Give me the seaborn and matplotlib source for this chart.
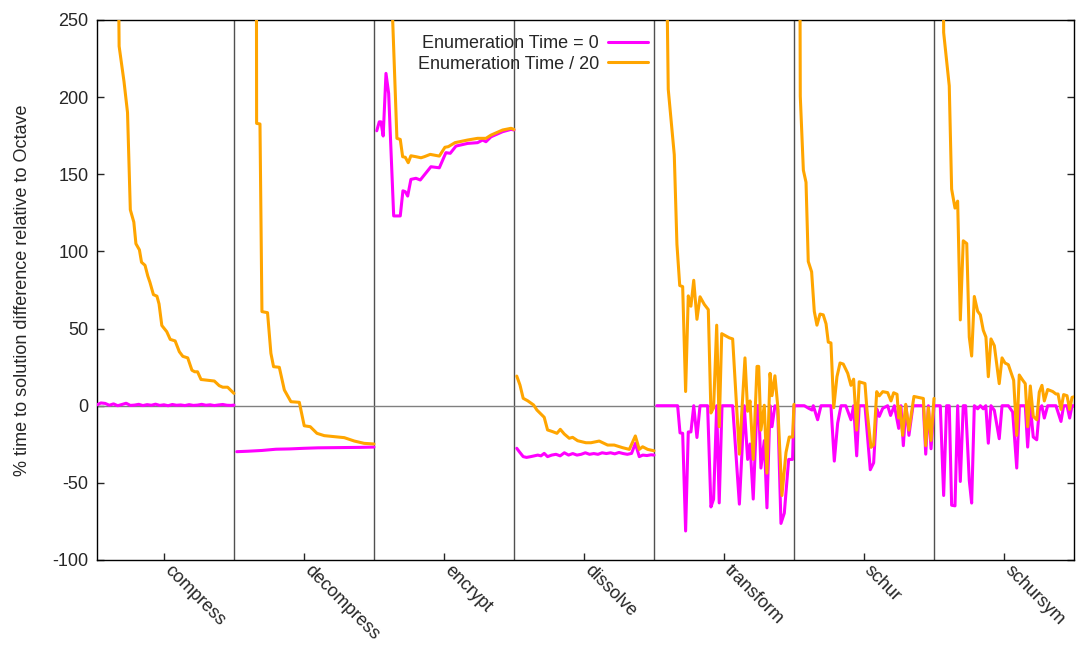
import matplotlib
matplotlib.use("Agg")
import matplotlib.pyplot as plt
import seaborn as sns
import pandas as pd

# ---------------------------------------------
# DATA (x = position inside each benchmark block)
# ---------------------------------------------
benchmarks = ["compress", "decompress", "encrypt", "dissolve", "transform", "schur", "schursym"]
series_names = ["Enumeration Time = 0", "Enumeration Time / 20"]

compress_x0 = [2, 5, 8, 11, 14, 17, 20, 23, 26, 29, 32, 35, 38, 41, 44, 47, 50, 53, 56, 59,
               62, 65, 68, 71, 74, 77, 80, 83, 86, 89, 92, 95, 98, 100]
compress_y0 = [0.5, 1.8, 1.5, 0.3, 1.2, 0.0, 0.8, 1.6, 0.2, 0.4, 0.9, 0.1, 0.7, 0.3, 1.0, 0.2,
               0.6, 0.0, 0.8, 0.3, 0.5, 0.1, 0.7, 0.2, 0.4, 0.9, 0.3, 0.6, 0.1, 0.5, 0.8, 0.3, 0.2, 0.4]
compress_x20 = [2, 16, 18, 21.5, 24, 26, 28.5, 30, 32.5, 34, 36.5, 38.5, 40, 42.5, 45, 46.5, 48.5,
                52, 54.5, 58, 61, 63.5, 67, 70, 72, 74, 76.5, 86, 89.5, 92, 95.5, 100]
compress_y20 = [1500, 420, 233, 210, 190, 127, 119, 105, 101, 93, 91, 84, 80, 72, 71, 66, 52,
                48, 43, 42, 35, 32, 31, 23, 22, 22, 17, 16, 13, 12, 12, 8]

decompress_x0 = [2, 10, 20, 30, 40, 50, 60, 70, 80, 90, 100]
decompress_y0 = [-29.8, -29.5, -29, -28.2, -28, -27.6, -27.3, -27.2, -27.1, -27, -26.8]
decompress_x20 = [2, 15.5, 16.2, 18.6, 20, 24, 26.4, 28.3, 32.4, 36, 40.7, 46.7, 50.2, 54.5,
                  59.3, 64.5, 78.8, 86, 93, 100]
decompress_y20 = [2500, 700, 183, 182.6, 61, 60.3, 34, 25.3, 24.9, 10.2, 2.6, 2.2, -13, -13.6,
                  -17.9, -19.4, -20.7, -22.9, -24.4, -24.8]

encrypt_x0 = [2, 3.8, 5, 6.6, 8.6, 10.5, 14.1, 18.8, 20.7, 22.4, 24.1, 26.4, 30, 33.1, 40.7,
              46.7, 51.4, 54.5, 58.6, 66.9, 74, 77.6, 80, 83.6, 91.9, 97.9, 100]
encrypt_y0 = [178.2, 184, 184, 174.8, 215.4, 202.5, 123, 123, 139.3, 138.7, 135.9, 146.7, 147.4,
              146.3, 154.9, 154.2, 164, 163.6, 168.3, 170, 170.5, 172.2, 171.1, 174.3, 177.6,
              179.1, 178.7]
encrypt_x20 = [2, 12, 16.4, 18.8, 20.5, 22.4, 24.5, 26.4, 30, 33.6, 36, 40.2, 46.7, 50.7, 53.1,
               57.9, 66.9, 74, 80, 83.6, 91.9, 97.9, 100]
encrypt_y20 = [1500, 285, 173.3, 172.6, 161.4, 161, 157.5, 162, 161.4, 160.7, 161.4, 162.9,
               161.8, 167.5, 167.9, 170.5, 172.2, 173.3, 173.3, 175.4, 178.7, 179.8, 179.1]

dissolve_x0 = [2, 3.8, 6.6, 9, 12, 14.5, 17, 19.3, 21.6, 24, 27, 30, 33, 36, 39, 42, 45, 48, 51,
               54, 57, 60, 63, 66, 69, 72, 75, 78, 81, 84, 86.7, 89.5, 92, 95, 98, 100]
dissolve_y0 = [-27.6, -29.8, -33, -33.5, -33, -32.5, -32, -32.5, -30.9, -33, -32, -31.5, -32.5,
               -30.5, -32, -31, -32, -31.5, -30.5, -31.5, -31, -31.5, -30.5, -31, -30.5, -31.2,
               -30.3, -31, -31.5, -30.9, -24.4, -33, -32, -32.3, -31.8, -32]
dissolve_x20 = [2, 4.3, 6.6, 9.8, 14, 16.4, 21.6, 24, 27.6, 30.7, 33.1, 35.9, 39.5, 41.9, 45.5,
                51.4, 55, 60.9, 66.9, 71.6, 77.6, 82.4, 86.7, 89.5, 91.9, 95.5, 100]
dissolve_y20 = [19.2, 13.4, 4.8, 3.2, 0.5, -2.8, -7.5, -15.7, -16.8, -17.9, -15.3, -18.3, -21.1,
                -20.5, -22.7, -24, -24, -22.9, -25.5, -25.5, -27.2, -28.3, -19.6, -28.3, -26.6,
                -28.3, -29.2]

transform_x0 = [2, 16.9, 18.6, 20.5, 22.6, 24.5, 26.4, 28.4, 30.7, 32.9, 38.3, 40.7, 42.6, 44.8,
                46.6, 48.6, 56.2, 61, 64.5, 66.9, 68.6, 70.9, 73.6, 74.8, 76.4, 78.8, 80.7, 82.9,
                84.3, 86.4, 88.4, 90.7, 93.1, 96.2, 99, 100]
transform_y0 = [0, 0, -17.6, -17.9, -81.2, -17, -17, 0, -20.6, 0, 0, -65.6, -60.5, 0, -63, 0, 0,
                -63.8, 0, -34.8, -24.8, -60.5, 0, 0, -40.4, -22.6, -66.2, 0, -13.6, 0, -2, -76.3,
                -69.6, -34.8, -34.8, 0]
transform_x20 = [2, 9, 10.2, 14.5, 16.4, 18.4, 20.5, 22.6, 24.5, 26.4, 28.4, 30.7, 32.9, 36,
                 38.8, 40.7, 42.6, 44.8, 46.6, 48.4, 53.8, 56.2, 61, 65, 66.9, 68.6, 70.9, 73.6,
                 74.8, 76.4, 78.8, 80.7, 82.9, 84.3, 86.4, 88.4, 91.4, 94.3, 96.6, 99, 100]
transform_y20 = [1500, 290, 205.1, 162.7, 104.7, 77.9, 77.2, 9.2, 71.2, 64.5, 81.3, 56, 70.6,
                 65.6, 62.3, -4.7, -1.3, 52.2, -13.6, 46.7, 44, 43.3, -31.4, 31, -3.6, 3.1, -34.8,
                 25.5, 25.5, -15.8, 0.3, -43.7, 21, 6.5, 19.4, -0.2, -58.2, -30.3, -20.3, -20.3,
                 0.9]

schur_x0 = [1, 7.4, 10.5, 12.9, 13.8, 16.9, 19.3, 26.4, 28.8, 31.2, 33.6, 37, 40.7, 42.6, 44.8,
            46.6, 50.7, 54.5, 56.9, 59.1, 60.9, 63.4, 66.9, 69, 71.7, 74.8, 76.4, 78.1, 80, 82.1,
            85, 92.4, 94.1, 96, 97.9, 100]
schur_y0 = [0, 0, -1.7, -2.8, 0, -9.1, 0, 0, -35.9, -11.3, 0, 0, -9.1, 0, -32.5, 0, 0, -41.5,
            -37, -2, -6.9, -1.7, 0, -6.3, 0, -14.7, 0, -25.9, 0, -19.2, 0, 0, -31.4, 0, -27.9, 0]
schur_x20 = [2, 4.2, 4.5, 6.7, 8.6, 10.2, 12.6, 14.5, 16.4, 18.6, 20.9, 22.9, 24.5, 26.4, 28.4,
             30.7, 32.9, 35.2, 38.4, 40.7, 42.6, 44.8, 46.6, 50.7, 52.1, 55, 56.9, 59.1, 60.9,
             63.4, 66.9, 69.3, 71.2, 73.6, 74.8, 75.7, 77.6, 79.8, 82.1, 85.7, 92.4, 94.1, 96,
             97.9, 100]
schur_y20 = [1500, 300, 200.6, 152.7, 144.8, 93.5, 86.8, 61.2, 52.2, 59.4, 58.9, 53.1, 41.2,
             40.7, -1.3, 18.8, 27.7, 27, 21, 13.2, 17.2, -15.8, 15.5, 14.4, -2.4, -27, -25.3,
             9.1, 6.4, 9.1, 8.5, 3.1, 8.4, 7.4, -8, -0.6, -19.2, 0.9, -15.8, 6, 4.7, -25.9,
             -1.3, -22.5, 4.7]

schursym_x0 = [1, 4.5, 6.9, 9, 10.9, 12.6, 15, 16.9, 18.8, 20.9, 22.6, 25.2, 26.9, 28.8, 31.2,
               33.1, 35.2, 37, 38.8, 40.7, 43.1, 46.6, 48.6, 53.1, 56.2, 59.1, 61, 65.2, 66.9,
               68.8, 70.9, 73.4, 75.2, 77, 78.8, 81.2, 87.1, 90.7, 92.6, 95, 96.9, 98.6, 100]
schursym_y0 = [0, 0, -58.2, 0, 0, -64.5, -64.9, 0, -49.1, 0, 0, -48.4, -63.1, 0, -2, 0, -2, 0,
               -24.3, 0, -3, -21.4, 0, 0, -4.1, -40.4, 0, 0, -26.8, 0, -20.3, -22.1, -3, 0, -8,
               0, 0, -10.2, 0, 0, -8, 0, 0]
schursym_x20 = [2, 6.6, 6.9, 10.9, 12.6, 15, 16.9, 18.8, 20.9, 23.4, 25.2, 26.9, 28.8, 31.2,
                33.1, 35.2, 37.1, 38.8, 40.7, 43.1, 46.6, 48.6, 50.7, 53.1, 56.9, 59.1, 60.9,
                63.4, 65.2, 66.9, 68.8, 70.9, 73.4, 75.2, 77.1, 78.8, 81.2, 84.8, 87.1, 88.6,
                90.7, 92.6, 95, 96.9, 98.6, 100]
schursym_y20 = [1500, 300, 241.9, 207.3, 140.4, 128.1, 132.6, 55.6, 106.9, 105.1, 44.5, 32.2,
                70.8, 61.2, 58.9, 48.9, 44.5, 18.8, 43.3, 38.9, 14.3, 31, 27.7, 26.6, 16.5,
                -19.2, 19.9, 16.5, 14.3, -13.6, 12.8, -6.9, -9.1, 8.8, 13.2, 3.1, 10.5, 9.2,
                7.6, 7.6, -2.4, 7.2, 6.5, -2.4, 5.4, 5.8]

block_data = {
    "compress": (compress_x0, compress_y0, compress_x20, compress_y20),
    "decompress": (decompress_x0, decompress_y0, decompress_x20, decompress_y20),
    "encrypt": (encrypt_x0, encrypt_y0, encrypt_x20, encrypt_y20),
    "dissolve": (dissolve_x0, dissolve_y0, dissolve_x20, dissolve_y20),
    "transform": (transform_x0, transform_y0, transform_x20, transform_y20),
    "schur": (schur_x0, schur_y0, schur_x20, schur_y20),
    "schursym": (schursym_x0, schursym_y0, schursym_x20, schursym_y20),
}

rows = []
for i, name in enumerate(benchmarks):
    x0, y0, x20, y20 = block_data[name]
    for x, y in zip(x0, y0):
        rows.append({"x": i * 100 + x, "pct": y, "series": series_names[0], "bench": name})
    for x, y in zip(x20, y20):
        rows.append({"x": i * 100 + x, "pct": y, "series": series_names[1], "bench": name})
df = pd.DataFrame(rows)

# ---------------------------------------------
# PLOT
# ---------------------------------------------
sns.set_style("white")
plt.rcParams["font.family"] = ["Liberation Sans", "DejaVu Sans"]
plt.rcParams["axes.unicode_minus"] = False

fig = plt.figure(figsize=(10.84, 6.46), dpi=100)
ax = fig.add_axes([97 / 1084, 86 / 646, 977 / 1084, 540 / 646])

for i in range(1, len(benchmarks)):
    ax.axvline(i * 100, color="#505050", lw=1, zorder=1)
ax.axhline(0, color="#808080", lw=1, zorder=1)

sns.lineplot(data=df, x="x", y="pct", hue="series", hue_order=series_names,
             units="bench", estimator=None, sort=False,
             palette={series_names[0]: "#ff00ff", series_names[1]: "#ffa500"},
             lw=2.2, ax=ax, zorder=3)

ax.set_xlim(2.2, 700)
ax.set_ylim(-100, 250)
ax.set_yticks(range(-100, 251, 50))
ax.set_xticks([i * 100 + 50 for i in range(len(benchmarks))])
ax.set_xticklabels(benchmarks, rotation=-45, ha="left", va="baseline", rotation_mode="anchor")

ax.tick_params(axis="y", direction="in", length=5, left=True, right=True, labelsize=13,
               pad=6, width=1)
ax.tick_params(axis="x", direction="in", length=5, bottom=True, top=False, labelsize=13,
               pad=8, width=1)
for s in ax.spines.values():
    s.set_color("black")
    s.set_linewidth(1)

ax.set_xlabel("")
ax.set_ylabel("% time to solution difference relative to Octave", fontsize=13)
ax.yaxis.set_label_coords(-0.068, 0.5)

handles, labels = ax.get_legend_handles_labels()
leg = ax.legend(handles, labels, markerfirst=False, frameon=False, fontsize=13,
                loc="upper right", bbox_to_anchor=(648 / 1084, 1 - 35 / 646),
                bbox_transform=fig.transFigure, borderaxespad=0, borderpad=0,
                handlelength=2.2, handletextpad=0.5, labelspacing=0.2)
for line in leg.get_lines():
    line.set_linewidth(2.2)

fig.savefig("out.png", dpi=100)
